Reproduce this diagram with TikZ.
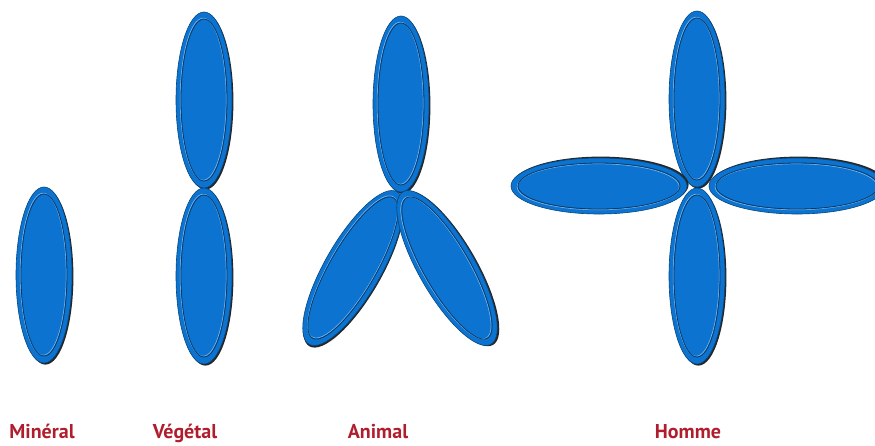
\documentclass[tikz,border=0pt]{standalone}
\usepackage{fontspec}
\setmainfont{PT Sans}
\usetikzlibrary{positioning}

\definecolor{petalblue}{RGB}{12,116,208}
\definecolor{labelred}{RGB}{176,30,46}

% one petal: centre x, centre y, rotation
\newcommand{\petal}[3]{%
  \begin{scope}[shift={(#1,#2)}, rotate=#3]
    \fill[black!85] (1.4,1.6) ellipse [x radius=28, y radius=88];
    \fill[petalblue, draw=petalblue!60!black, line width=0.6pt] (0,0) ellipse [x radius=28, y radius=88];
    \draw[petalblue!55!white, line width=0.7pt] (-0.8,-0.8) ellipse [x radius=23, y radius=81];
    \draw[petalblue!50!black, line width=0.8pt] (0,0) ellipse [x radius=23, y radius=81];
  \end{scope}}

\begin{document}
\begin{tikzpicture}[
  x=1pt, y=-1pt,
  kingdom/.style={font=\fontsize{20}{24}\selectfont\bfseries, text=labelred, anchor=base, inner sep=0pt},
]
\useasboundingbox (0,0) rectangle (875,445);
\clip (0,0) rectangle (875,445);

% ---- mineral ----
\petal{44}{275}{0}

% ---- vegetal ----
\petal{204}{100}{0}
\petal{204}{276}{0}

% ---- animal ----
\petal{401}{104}{0}
\petal{353}{268}{-30}
\petal{447}{268}{30}

% ---- man ----
\petal{697}{99}{0}
\petal{697}{276}{0}
\petal{599}{186}{90}
\petal{797}{186}{90}

% ---- labels ----
\node[kingdom] (mineral) at (42,438) {Minéral};
\node[kingdom] (vegetal) at (185,438) {Végétal};
\node[kingdom] (animal)  at (378,438) {Animal};
\node[kingdom] (homme)   at (688,438) {Homme};

\end{tikzpicture}
\end{document}
